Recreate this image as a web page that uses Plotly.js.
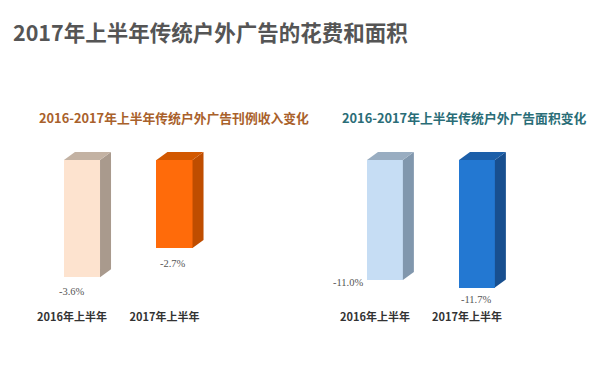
<!DOCTYPE html>
<html>
<head>
<meta charset="utf-8">
<script src="https://cdn.plot.ly/plotly-3.0.1.min.js"></script>
<style>html,body{margin:0;padding:0;background:#fff;}#chart{width:607px;height:375px;}</style>
</head>
<body>
<div id="chart"></div>
<script>
// ---- data ----
const mainTitle = '2017年上半年传统户外广告的花费和面积';
const categories = ['2016年上半年', '2017年上半年'];
const revenueTitle = '2016-2017年上半年传统户外广告刊例收入变化';
const revenueChange = [-3.6, -2.7];
const areaTitle = '2016-2017年上半年传统户外广告面积变化';
const areaChange = [-11.0, -11.7];

// ---- style ----
const W = 607, H = 375;
const CJK = '"Noto Sans CJK SC", "Noto Sans", sans-serif';
const revFront = ['#fde3cf', '#ff6b0a'], revSide = ['#a99a8d', '#bf4d00'], revTop = ['#c3b2a3', '#d25800'];
const areaFront = ['#c6ddf4', '#2378d2'], areaSide = ['#8197ad', '#184f8f'], areaTop = ['#99adc1', '#1c5fa9'];
const barW = 0.39, barOff = -0.087;
const depthX = 11, depthY = 8;  // px

const plotTop = 140, plotBot = 305;
function yrange(pxPerUnit){ return [-(plotBot - 160) / pxPerUnit, (160 - plotTop) / pxPerUnit]; }
const leftUnitX = 92.5, rightUnitX = 92;
const leftUnitY = 32.6, rightUnitY = 10.9;

function faces(vals, xa, ya, unitX, unitY, sideCols, topCols){
  const tr = [];
  const dx = depthX / unitX, dy = depthY / unitY;
  vals.forEach((v, i) => {
    const xl = i + barOff, xr = i + barOff + barW;
    tr.push({type:'scatter', mode:'lines', xaxis:xa, yaxis:ya, fill:'toself',
      x:[xr, xr+dx, xr+dx, xr, xr], y:[0, dy, v+dy, v, 0],
      fillcolor: sideCols[i], line:{width:0, color:sideCols[i]}, hoverinfo:'skip', showlegend:false});
    tr.push({type:'scatter', mode:'lines', xaxis:xa, yaxis:ya, fill:'toself',
      x:[xl, xr, xr+dx, xl+dx, xl], y:[0, 0, dy, dy, 0],
      fillcolor: topCols[i], line:{width:0, color:topCols[i]}, hoverinfo:'skip', showlegend:false});
  });
  return tr;
}

const traces = [
  {type:'bar', x:[0,1], y:revenueChange, width:barW, offset:barOff, xaxis:'x', yaxis:'y',
   marker:{color:revFront, line:{width:0}}, showlegend:false, hoverinfo:'skip'},
  {type:'bar', x:[0,1], y:areaChange, width:barW, offset:barOff, xaxis:'x2', yaxis:'y2',
   marker:{color:areaFront, line:{width:0}}, showlegend:false, hoverinfo:'skip'},
  ...faces(revenueChange, 'x', 'y', leftUnitX, leftUnitY, revSide, revTop),
  ...faces(areaChange, 'x2', 'y2', rightUnitX, rightUnitY, areaSide, areaTop)
];

const fmt = v => v.toFixed(1) + '%';
const valFont = {family:'"Liberation Serif", "DejaVu Serif", serif', size:10.5, color:'#555'};
const annotations = [
  {text:'<b>'+revenueTitle+'</b>', xref:'paper', yref:'paper', x:174/W, y:1-117/H,
   xanchor:'center', yanchor:'middle', showarrow:false,
   font:{family:CJK, size:12.8, color:'#a9612b'}},
  {text:'<b>'+areaTitle+'</b>', xref:'paper', yref:'paper', x:464/W, y:1-117/H,
   xanchor:'center', yanchor:'middle', showarrow:false,
   font:{family:CJK, size:12.8, color:'#2a6d77'}},
  {text:fmt(revenueChange[0]), xref:'x', yref:'y', x:0, y:revenueChange[0], yshift:-14, showarrow:false, font:valFont},
  {text:fmt(revenueChange[1]), xref:'x', yref:'y', x:1, y:revenueChange[1], xshift:8, yshift:-15, showarrow:false, font:valFont},
  {text:fmt(areaChange[0]), xref:'x2', yref:'y2', x:0, y:areaChange[0], xshift:-27, yshift:-3, showarrow:false, font:valFont},
  {text:fmt(areaChange[1]), xref:'x2', yref:'y2', x:1, y:areaChange[1], xshift:9, yshift:-12, showarrow:false, font:valFont}
];

const xCommon = {range:[-0.5,1.5], tickvals:[0,1], ticktext:categories.map(c=>'<b>'+c+'</b>'),
  showgrid:false, zeroline:false, showline:false, ticks:'', fixedrange:true,
  tickfont:{family:CJK, size:11, color:'#333'}, ticklabelstandoff:4};
const yCommon = {showgrid:false, zeroline:false, showline:false, showticklabels:false, ticks:'', fixedrange:true,
  domain:[1-plotBot/H, 1-plotTop/H]};

const layout = {
  width:W, height:H, margin:{l:0, r:0, t:0, b:0},
  paper_bgcolor:'#fff', plot_bgcolor:'rgba(0,0,0,0)',
  title:{text:'<b>'+mainTitle+'</b>', x:13/W, xanchor:'left', y:1-33/H, yanchor:'middle',
    font:{family:CJK, size:21.5, color:'#555'}},
  xaxis:Object.assign({}, xCommon, {domain:[25.75/W, 210.75/W], anchor:'y'}),
  yaxis:Object.assign({}, yCommon, {range:yrange(leftUnitY), anchor:'x'}),
  xaxis2:Object.assign({}, xCommon, {domain:[329/W, 513/W], anchor:'y2'}),
  yaxis2:Object.assign({}, yCommon, {range:yrange(rightUnitY), anchor:'x2'}),
  annotations: annotations,
  bargap:0
};

Plotly.newPlot('chart', traces, layout, {displayModeBar:false, staticPlot:true});
</script>
</body>
</html>
